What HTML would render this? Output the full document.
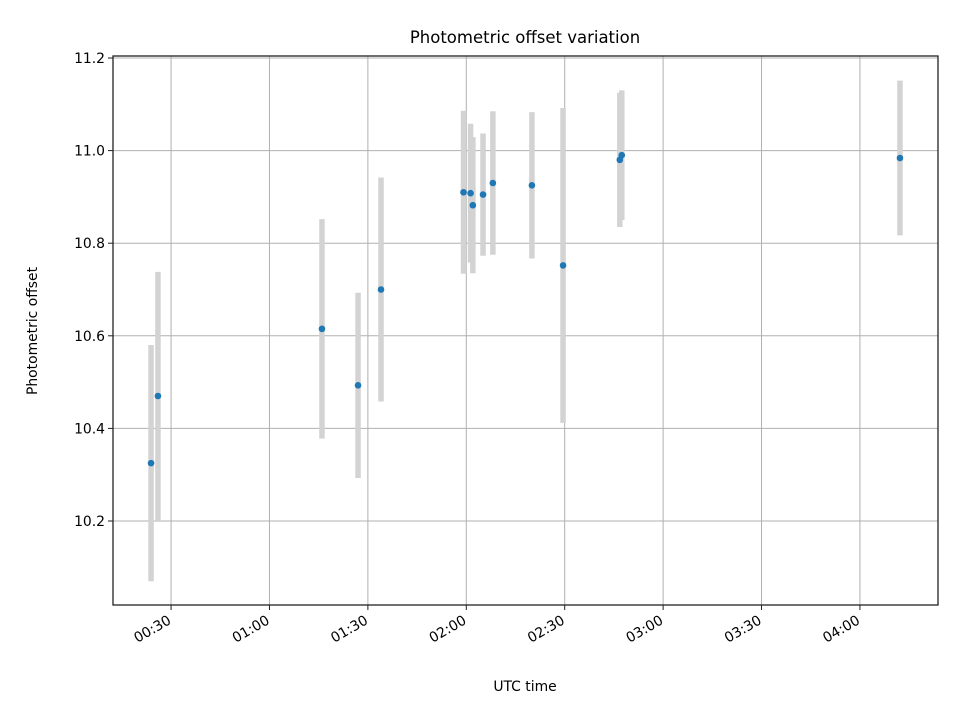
<!DOCTYPE html>
<html><head><meta charset="utf-8"><style>
body{margin:0;background:#fff}
svg{display:block;font-family:"DejaVu Sans","Liberation Sans",sans-serif}
</style></head><body>
<svg id="chart" width="960" height="720" viewBox="0 0 960 720" xmlns="http://www.w3.org/2000/svg">
<rect width="960" height="720" fill="#fff"/>
<text x="525" y="43" text-anchor="middle" font-size="16.5">Photometric offset variation</text>
<g id="grid"></g>
<g id="bars"></g>
<g id="points"></g>
<rect x="113" y="56" width="825" height="549" fill="none" stroke="#222" stroke-width="1.3"/>
<g id="ticks"></g>
<text x="525" y="691" text-anchor="middle" font-size="13.9">UTC time</text>
<text transform="translate(37,331) rotate(-90)" text-anchor="middle" font-size="13.9">Photometric offset</text>
</svg>
<script>
// minutes after 00:00 UTC
const times = [23.9, 26.0, 76.0, 87.0, 94.0, 119.15, 121.3, 122.0, 125.1, 128.1, 140.0, 149.5, 166.8, 167.4, 252.2];
const offsets = [10.325, 10.47, 10.615, 10.493, 10.70, 10.91, 10.908, 10.882, 10.905, 10.93, 10.925, 10.752, 10.98, 10.99, 10.984];
const errors = [0.255, 0.268, 0.237, 0.2, 0.242, 0.176, 0.15, 0.147, 0.132, 0.155, 0.158, 0.34, 0.145, 0.14, 0.167];
const xTicks = [30, 60, 90, 120, 150, 180, 210, 240];
const xTickLabels = ["00:30", "01:00", "01:30", "02:00", "02:30", "03:00", "03:30", "04:00"];
const yTicks = [10.2, 10.4, 10.6, 10.8, 11.0, 11.2];
const yTickLabels = ["10.2", "10.4", "10.6", "10.8", "11.0", "11.2"];

const L=113,R=938,T=56,B=605;
const xMin=12.3,xMax=263.8,yMin=10.0186,yMax=11.2043;
const xs=v=>L+(v-xMin)/(xMax-xMin)*(R-L);
const ys=v=>B-(v-yMin)/(yMax-yMin)*(B-T);
const NS="http://www.w3.org/2000/svg";
function mk(tag,parent,attrs){const e=document.createElementNS(NS,tag);for(const k in attrs)e.setAttribute(k,attrs[k]);document.getElementById(parent).appendChild(e);return e;}

xTicks.forEach((t,i)=>{
  const x=xs(t);
  const g=mk('line','grid',{x1:x,x2:x,y1:T,y2:B,stroke:'#b0b0b0','stroke-width':1});
  
  
  const tk=mk('line','ticks',{x1:x,x2:x,y1:B,y2:B+5,stroke:'#222','stroke-width':1});
  
  
  const lb=mk('text','ticks',{transform:`translate(${x+1},623) rotate(-30)`,'text-anchor':'end','font-size':13.9});
  lb.textContent=xTickLabels[i];
  
  
});
yTicks.forEach((t,i)=>{
  const y=ys(t);
  const g=mk('line','grid',{x1:L,x2:R,y1:y,y2:y,stroke:'#b0b0b0','stroke-width':1});
  
  
  const tk=mk('line','ticks',{x1:L-5,x2:L,y1:y,y2:y,stroke:'#222','stroke-width':1});
  
  
  const lb=mk('text','ticks',{x:L-8,y:y+5,'text-anchor':'end','font-size':13.9});
  lb.textContent=yTickLabels[i];
  
  
});
times.forEach((t,i)=>{
  const x=xs(t);
  const b=mk('line','bars',{x1:x,x2:x,y1:ys(offsets[i]+errors[i]),y2:ys(offsets[i]-errors[i]),stroke:'#d3d3d3','stroke-width':5.5});
  
  
  const p=mk('circle','points',{cx:x,cy:ys(offsets[i]),r:3.3,fill:'#1f77b4'});
  
  
});
</script>
</body></html>
